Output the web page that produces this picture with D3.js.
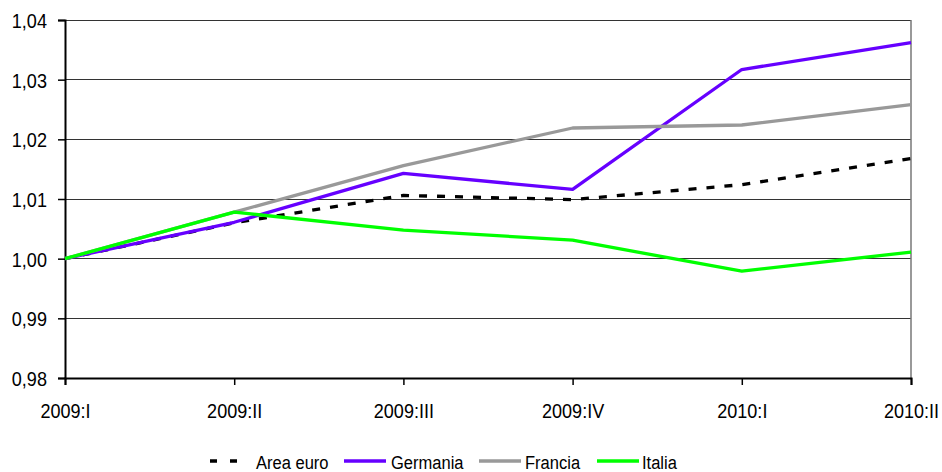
<!DOCTYPE html>
<html><head><meta charset="utf-8">
<script src="https://cdn.jsdelivr.net/npm/d3@7"></script>
<style>body{margin:0;background:#fff}svg{display:block}text{font-family:"Liberation Sans",Arial,sans-serif}</style>
</head><body><svg id="c" width="942" height="472"></svg>
<script>
const categories = ["2009:I","2009:II","2009:III","2009:IV","2010:I","2010:II"];
const areaEuro = [1.0000, 1.0060, 1.0106, 1.0099, 1.0124, 1.0168];
const germania = [1.0000, 1.0061, 1.0143, 1.0116, 1.0317, 1.0362];
const francia  = [1.0000, 1.0078, 1.0156, 1.0219, 1.0224, 1.0258];
const italia   = [1.0000, 1.0078, 1.0048, 1.0031, 0.9979, 1.0011];
const yTicks = [0.98, 0.99, 1.00, 1.01, 1.02, 1.03, 1.04];
const seriesNames = ["Area euro","Germania","Francia","Italia"];

const series = [
  {name: seriesNames[0], values: areaEuro, color: "#000000", dash: "8,10"},
  {name: seriesNames[1], values: germania, color: "#6600ff", dash: null},
  {name: seriesNames[2], values: francia,  color: "#999999", dash: null},
  {name: seriesNames[3], values: italia,   color: "#00ff00", dash: null}
];

const svg = d3.select("#c");
const L = 65, R = 911, T = 20, B = 378;
const x = d3.scalePoint().domain(categories).range([L, R]);
const y = d3.scaleLinear().domain([0.98, 1.04]).range([B, T]);
const fmt = d => d3.format(".2f")(d).replace(".", ",");
const SX = 0.86;

// gridlines
svg.append("g").selectAll("line").data(yTicks.slice(1)).join("line")
  .attr("x1", L).attr("x2", R).attr("y1", d => y(d)).attr("y2", d => y(d))
  .attr("stroke", "#333").attr("stroke-width", 1).attr("shape-rendering","crispEdges");
// right border
svg.append("line").attr("x1", R).attr("x2", R).attr("y1", T).attr("y2", B)
  .attr("stroke", "#777").attr("stroke-width", 1.5);

// y axis
const ya = svg.append("g").attr("transform", `translate(${L},0)`)
  .call(d3.axisLeft(y).tickValues(yTicks).tickFormat(fmt).tickSize(7).tickPadding(14));
ya.select(".domain").attr("stroke", "#000").attr("stroke-width", 2);
ya.selectAll(".tick line").attr("stroke", "#000").attr("stroke-width", 1.5);
ya.selectAll(".tick text").attr("font-size", 21).attr("fill", "#000")
  .attr("transform", `scale(${SX},1)`).attr("dy", "0.36em");

// x axis
const xa = svg.append("g").attr("transform", `translate(0,${B})`)
  .call(d3.axisBottom(x).tickSize(7).tickPadding(18));
xa.select(".domain").attr("stroke", "#000").attr("stroke-width", 2);
xa.selectAll(".tick line").attr("stroke", "#000").attr("stroke-width", 1.5);
xa.selectAll(".tick text").attr("font-size", 21).attr("fill", "#000")
  .attr("transform", `scale(${SX},1)`);

// lines
const line = d3.line().x((d, i) => x(categories[i])).y(d => y(d));
svg.append("g").selectAll("path").data(series).join("path")
  .attr("d", d => line(d.values)).attr("fill", "none")
  .attr("stroke", d => d.color).attr("stroke-width", 3.3)
  .attr("stroke-dasharray", d => d.dash).attr("stroke-linejoin", "round");

// legend
const legX = [210, 344, 479, 597];
const legTextX = [256, 391, 525, 642];
const lg = svg.append("g").selectAll("g").data(series).join("g")
  .attr("transform", (d, i) => `translate(${legX[i]},461)`);
lg.append("line").attr("x1", 0).attr("x2", (d,i) => i === 0 ? 28 : 42).attr("y1", 0).attr("y2", 0)
  .attr("stroke", d => d.color).attr("stroke-width", 3.3)
  .attr("stroke-dasharray", (d,i) => i === 0 ? "7,13" : null);
lg.append("text").attr("x", (d,i) => (legTextX[i] - legX[i]) / 0.87).attr("y", 7.5)
  .attr("transform", "scale(0.87,1)")
  .attr("font-size", 19).attr("fill", "#000").text(d => d.name);
</script></body></html>
